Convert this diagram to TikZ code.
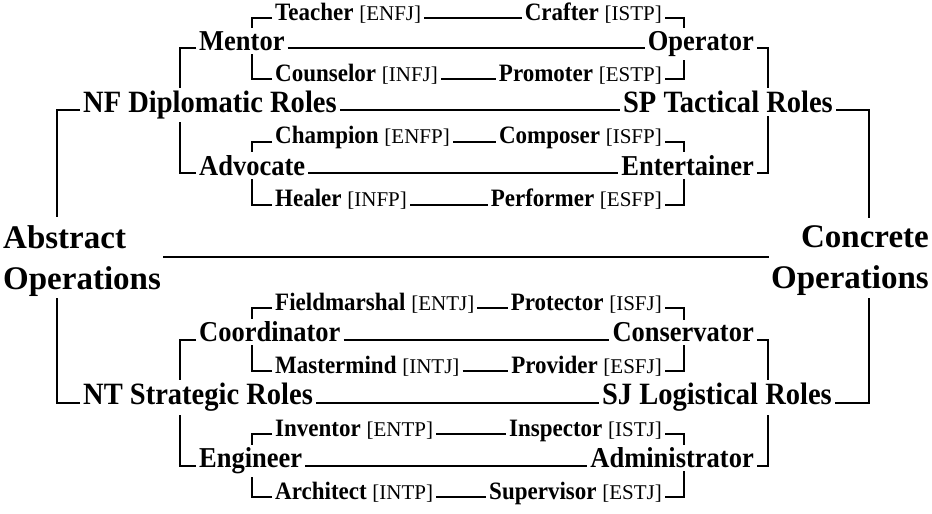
\documentclass[tikz,border=0pt]{standalone}
\usepackage{fontspec}
\setmainfont{Liberation Serif}
\newfontfamily\namefont{Liberation Serif}[FakeStretch=0.92]
\newcommand\typecode[1]{{\rmfamily\mdseries\fontsize{21}{24}\selectfont[#1]}}
\tikzset{
  basebox/.style={inner sep=3pt},
  leafL/.style={basebox, font=\namefont\bfseries\fontsize{25}{28}\selectfont, anchor=mid west},
  leafR/.style={basebox, font=\namefont\bfseries\fontsize{25}{28}\selectfont, anchor=mid east},
  midL/.style={basebox, font=\namefont\bfseries\fontsize{28.8}{31}\selectfont, anchor=mid west},
  midR/.style={basebox, font=\namefont\bfseries\fontsize{28.8}{31}\selectfont, anchor=mid east},
  grpL/.style={basebox, font=\namefont\bfseries\fontsize{31}{33}\selectfont, anchor=mid west},
  grpR/.style={basebox, font=\namefont\bfseries\fontsize{31}{33}\selectfont, anchor=mid east},
  opsbox/.style={basebox, inner sep=2pt, font=\bfseries\fontsize{33}{41}\selectfont},
  link/.style={line width=2pt},
  midline/.style={line width=2.6pt},
}
\begin{document}
\begin{tikzpicture}[x=1pt,y=-1pt]
\fill[white] (0,0) rectangle (932,514);
\path[use as bounding box] (0,0) rectangle (932,514);
% column x positions
\coordinate (xo1) at (57,0);
\coordinate (xm1) at (180,0);
\coordinate (xi1) at (252,0);
\coordinate (xi2) at (684,0);
\coordinate (xm2) at (768,0);
\coordinate (xo2) at (869,0);
\coordinate (mc) at (466,257);
% side labels
\node[opsbox, align=left, anchor=west] (AbsOps) at (1,260.8) {Abstract\\Operations};
\node[opsbox, align=right, anchor=east] (ConcOps) at (931,260.8) {Concrete\\Operations};
% top half
\node[leafL] (Teacher) at (272,18) {Teacher \typecode{ENFJ}};
\node[leafR] (Crafter) at (665,18) {Crafter \typecode{ISTP}};
\node[midL] (Mentor) at (196,48) {Mentor};
\node[midR] (Operator) at (757,48) {Operator};
\node[leafL] (Counselor) at (272,79) {Counselor \typecode{INFJ}};
\node[leafR] (Promoter) at (665,79) {Promoter \typecode{ESTP}};
\node[grpL] (NF) at (80,110) {NF Diplomatic Roles};
\node[grpR] (SP) at (836,110) {SP Tactical Roles};
\node[leafL] (Champion) at (272,141.5) {Champion \typecode{ENFP}};
\node[leafR] (Composer) at (665,141.5) {Composer \typecode{ISFP}};
\node[midL] (Advocate) at (196,173) {Advocate};
\node[midR] (Entertainer) at (757,173) {Entertainer};
\node[leafL] (Healer) at (272,204.5) {Healer \typecode{INFP}};
\node[leafR] (Performer) at (665,204.5) {Performer \typecode{ESFP}};
% bottom half
\node[leafL] (Fieldmarshal) at (272,308) {Fieldmarshal \typecode{ENTJ}};
\node[leafR] (Protector) at (665,308) {Protector \typecode{ISFJ}};
\node[midL] (Coordinator) at (196,339.5) {Coordinator};
\node[midR] (Conservator) at (757,339.5) {Conservator};
\node[leafL] (Mastermind) at (272,371) {Mastermind \typecode{INTJ}};
\node[leafR] (Provider) at (665,371) {Provider \typecode{ESFJ}};
\node[grpL] (NT) at (80,402.5) {NT Strategic Roles};
\node[grpR] (SJ) at (835,402.5) {SJ Logistical Roles};
\node[leafL] (Inventor) at (272,434) {Inventor \typecode{ENTP}};
\node[leafR] (Inspector) at (665,434) {Inspector \typecode{ISTJ}};
\node[midL] (Engineer) at (196,465.5) {Engineer};
\node[midR] (Administrator) at (757,465.5) {Administrator};
\node[leafL] (Architect) at (272,497) {Architect \typecode{INTP}};
\node[leafR] (Supervisor) at (665,497) {Supervisor \typecode{ESTJ}};
% horizontal links
\foreach \a/\b in {Teacher/Crafter, Mentor/Operator, Counselor/Promoter, NF/SP,
  Champion/Composer, Advocate/Entertainer, Healer/Performer,
  Fieldmarshal/Protector, Coordinator/Conservator, Mastermind/Provider, NT/SJ,
  Inventor/Inspector, Engineer/Administrator, Architect/Supervisor}
  \draw[link] (\a.mid east) -- (\b.mid west);
\draw[midline] (AbsOps.east |- mc) -- (ConcOps.west |- mc);
% outer brackets
\draw[link, shorten >=6pt] (NF.mid west) -| (xo1 |- AbsOps.north);
\draw[link] (NT.mid west) -| (xo1 |- AbsOps.south);
\draw[link, shorten >=6pt] (SP.mid east) -| (xo2 |- ConcOps.north);
\draw[link] (SJ.mid east) -| (xo2 |- ConcOps.south);
% middle brackets
\draw[link] (Mentor.mid west) -| (xm1 |- NF.north);
\draw[link] (Advocate.mid west) -| (xm1 |- NF.south);
\draw[link] (Operator.mid east) -| (xm2 |- SP.north);
\draw[link] (Entertainer.mid east) -| (xm2 |- SP.south);
\draw[link] (Coordinator.mid west) -| (xm1 |- NT.north);
\draw[link] (Engineer.mid west) -| (xm1 |- NT.south);
\draw[link] (Conservator.mid east) -| (xm2 |- SJ.north);
\draw[link] (Administrator.mid east) -| (xm2 |- SJ.south);
% inner brackets
\foreach \up/\mid/\dn in {Teacher/Mentor/Counselor, Champion/Advocate/Healer,
  Fieldmarshal/Coordinator/Mastermind, Inventor/Engineer/Architect} {
  \draw[link] (\up.mid west) -| (xi1 |- \mid.north);
  \draw[link] (\dn.mid west) -| (xi1 |- \mid.south);
}
\foreach \up/\mid/\dn in {Crafter/Operator/Promoter, Composer/Entertainer/Performer,
  Protector/Conservator/Provider, Inspector/Administrator/Supervisor} {
  \draw[link] (\up.mid east) -| (xi2 |- \mid.north);
  \draw[link] (\dn.mid east) -| (xi2 |- \mid.south);
}
\end{tikzpicture}
\end{document}
